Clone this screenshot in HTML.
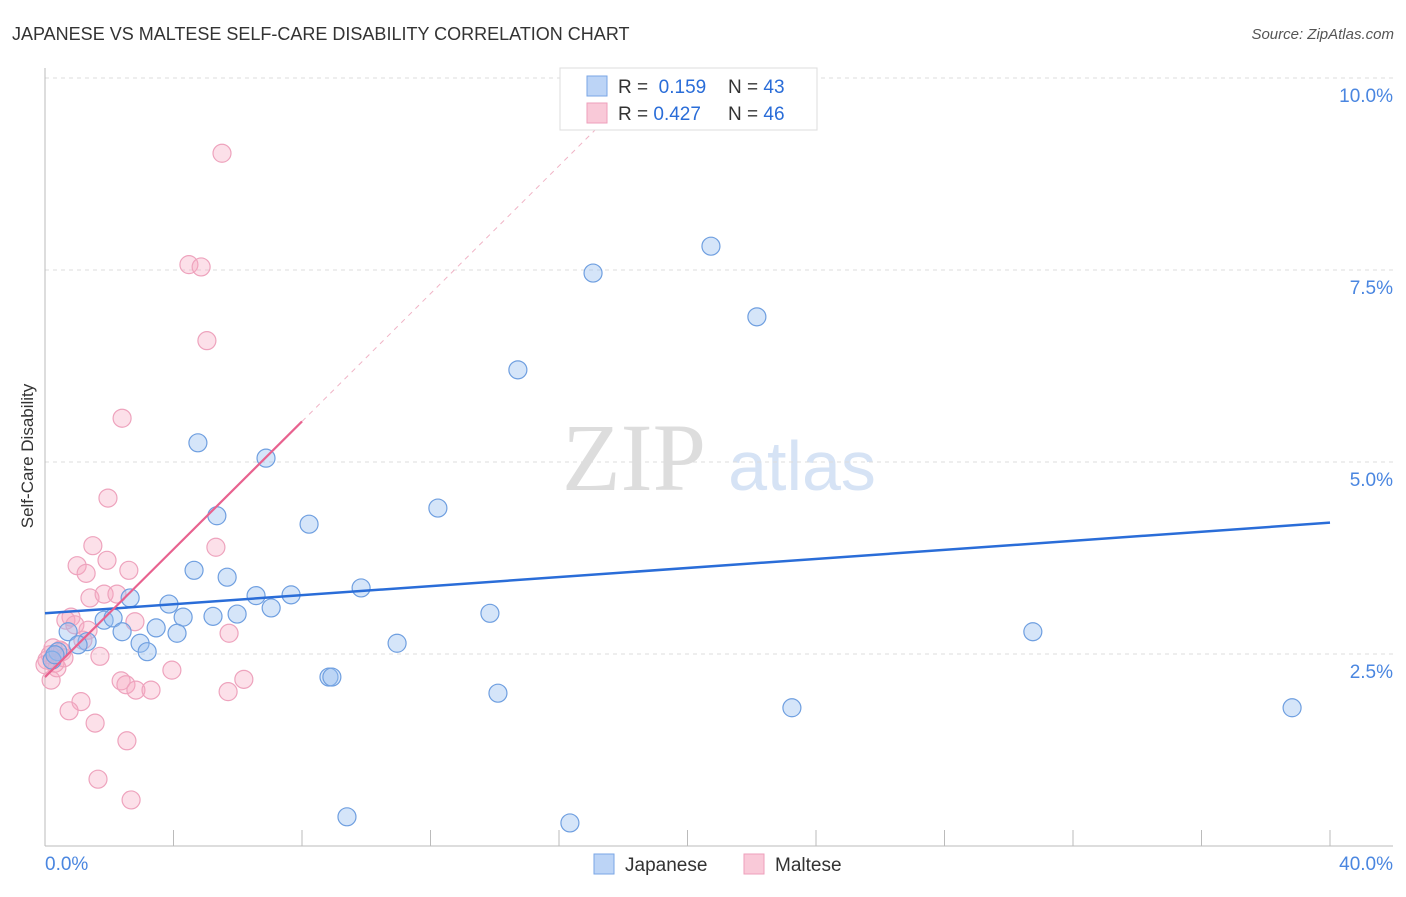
<!DOCTYPE html>
<html><head><meta charset="utf-8"><style>
body{margin:0;background:#fff;font-family:"Liberation Sans",sans-serif;}
svg text{font-family:"Liberation Sans",sans-serif;}
</style></head><body>
<svg id="chart" width="1406" height="892">
<text x="12" y="40" font-size="18" fill="#333">JAPANESE VS MALTESE SELF-CARE DISABILITY CORRELATION CHART</text>
<text x="1394" y="39" font-size="15" fill="#555" text-anchor="end" font-style="italic">Source: ZipAtlas.com</text>
<text x="33" y="456" font-size="17" fill="#333" text-anchor="middle" transform="rotate(-90 33 456)">Self-Care Disability</text>
<g><text x="634" y="490" font-size="96" fill="#ddd" text-anchor="middle" font-family="Liberation Serif" style="font-family:'Liberation Serif',serif">ZIP</text><text x="802" y="490" font-size="70" fill="#d6e3f5" text-anchor="middle">atlas</text></g>
<g id="grid"></g><g id="axes"></g><g id="trends"></g><g id="points"></g>
<g>
<rect x="560" y="68" width="257" height="62" fill="#fff" stroke="#ddd"/>
<rect x="587" y="76" width="20" height="20" fill="#bcd4f6" stroke="#7aa6e6"/>
<rect x="587" y="103" width="20" height="20" fill="#f9c9d8" stroke="#ee9fbb"/>
<text x="618" y="93" font-size="19" fill="#333">R = <tspan fill="#2a6dd8">&#160;0.159</tspan></text>
<text x="728" y="93" font-size="19" fill="#333">N = <tspan fill="#2a6dd8">43</tspan></text>
<text x="618" y="120" font-size="19" fill="#333">R = <tspan fill="#2a6dd8">0.427</tspan></text>
<text x="728" y="120" font-size="19" fill="#333">N = <tspan fill="#2a6dd8">46</tspan></text>
</g>
<g>
<rect x="594" y="854" width="20" height="20" fill="#bcd4f6" stroke="#7aa6e6"/>
<text x="625" y="871" font-size="19" fill="#333">Japanese</text>
<rect x="744" y="854" width="20" height="20" fill="#f9c9d8" stroke="#ee9fbb"/>
<text x="775" y="871" font-size="19" fill="#333">Maltese</text>
</g>
</svg>
<script>
const yTicks=[2.5,5.0,7.5,10.0];
const xLabels=["0.0%","40.0%"];
const jpX=[20.73,17.06,22.16,14.72,4.76,6.88,12.23,5.35,8.22,4.64,5.67,9.84,6.57,7.66,2.65,3.86,7.04,13.85,5.23,4.30,5.98,1.84,2.12,3.46,0.72,2.40,4.11,30.75,2.96,10.96,1.31,3.18,1.03,0.40,0.22,8.84,8.93,14.10,23.25,38.82,9.40,16.34,0.31];
const jpY=[7.81,7.46,6.89,6.20,5.25,5.05,4.40,4.30,4.19,3.59,3.50,3.36,3.26,3.27,3.23,3.15,3.10,3.03,2.99,2.98,3.02,2.94,2.97,2.84,2.79,2.79,2.77,2.79,2.64,2.64,2.66,2.53,2.62,2.53,2.42,2.20,2.20,1.99,1.80,1.80,0.38,0.30,2.49];
const mtX=[5.51,4.48,4.86,5.04,2.40,1.96,5.32,1.49,1.93,1.00,1.28,2.61,1.40,1.84,2.24,0.81,0.65,2.80,0.93,1.34,5.73,1.71,0.47,0.16,0.31,0.19,3.95,6.19,2.37,2.52,2.83,3.30,5.70,1.12,0.75,1.56,2.55,1.65,2.68,0.53,0.06,0.37,0.25,0.59,0.0,1.18];
const mtY=[9.02,7.57,7.54,6.58,5.57,4.53,3.89,3.91,3.72,3.65,3.55,3.59,3.23,3.28,3.28,2.98,2.94,2.92,2.88,2.81,2.77,2.47,2.55,2.49,2.38,2.16,2.29,2.17,2.15,2.10,2.03,2.03,2.01,1.88,1.76,1.60,1.37,0.87,0.60,2.53,2.42,2.32,2.58,2.45,2.36,2.68];
const jpTrend=[3.03,4.21]; // y at x=0 and x=40
const mtTrend=[2.20,0.416]; // intercept, slope
const NS="http://www.w3.org/2000/svg";
const X=v=>45+v*32.125, Y=v=>846-v*76.8;
function mk(t,a,p){const e=document.createElementNS(NS,t);for(const k in a)e.setAttribute(k,a[k]);p.appendChild(e);return e;}
const grid=document.getElementById('grid'),axes=document.getElementById('axes');
yTicks.forEach(t=>{
 const l=mk('line',{x1:45,x2:1393,y1:Y(t),y2:Y(t),stroke:'#ddd','stroke-dasharray':'4,4'},grid);
 
 
 const tx=mk('text',{x:1393,y:Y(t)+24,'font-size':19,fill:'#4a86e0','text-anchor':'end'},grid);
 tx.textContent=t.toFixed(1)+'%';
 
 
});
mk('line',{x1:45,x2:1393,y1:79-2,y2:79-2,stroke:'#fff'},grid);
mk('line',{x1:45,x2:45,y1:68,y2:846,stroke:'#bbb'},axes);
mk('line',{x1:45,x2:1393,y1:846,y2:846,stroke:'#bbb'},axes);
for(let i=0;i<=10;i++){const t=mk('line',{x1:X(i*4),x2:X(i*4),y1:830,y2:846,stroke:'#bbb'},axes);
 
 }
const xl0=mk('text',{x:45,y:870,'font-size':19,fill:'#4a86e0'},axes);xl0.textContent=xLabels[0];


const xl1=mk('text',{x:1393,y:870,'font-size':19,fill:'#4a86e0','text-anchor':'end'},axes);xl1.textContent=xLabels[1];


const pts=document.getElementById('points'),tr=document.getElementById('trends');
mtX.forEach((x,i)=>{const c=mk('circle',{cx:X(x),cy:Y(mtY[i]),r:9,fill:'rgba(245,165,192,0.35)',stroke:'#eea3bd','stroke-width':1.2},pts);
 
 });
jpX.forEach((x,i)=>{const c=mk('circle',{cx:X(x),cy:Y(jpY[i]),r:9,fill:'rgba(150,190,240,0.4)',stroke:'#6f9fe0','stroke-width':1.2},pts);
 
 });
const bt=mk('line',{x1:X(0),y1:Y(jpTrend[0]),x2:X(40),y2:Y(jpTrend[1]),stroke:'#2a6dd8','stroke-width':2.5},pts);


const pd=mk('line',{x1:X(8),y1:Y(mtTrend[0]+mtTrend[1]*8),x2:X(17.5),y2:Y(mtTrend[0]+mtTrend[1]*17.5),stroke:'#f0b4c6','stroke-width':1,'stroke-dasharray':'5,5'},pts);


const pt=mk('line',{x1:X(0),y1:Y(mtTrend[0]),x2:X(8),y2:Y(mtTrend[0]+mtTrend[1]*8),stroke:'#e8628f','stroke-width':2.2},pts);


</script>
</body></html>
